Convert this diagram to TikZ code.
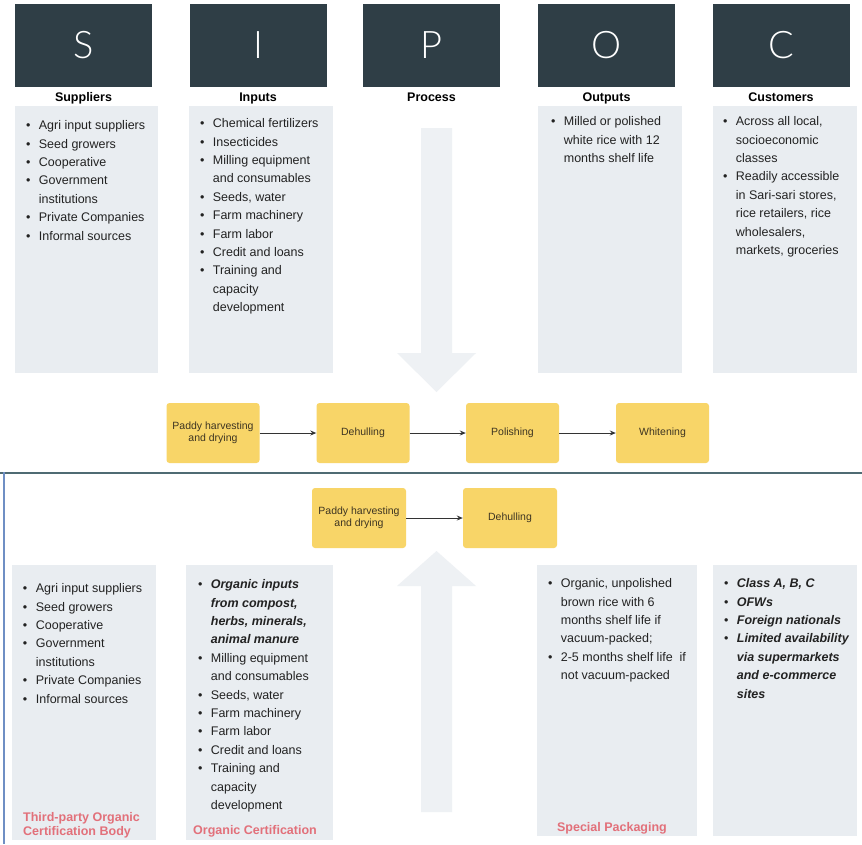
\documentclass[tikz,border=0pt]{standalone}
\usepackage{fontspec}
\setmainfont{Liberation Sans}
\IfFontExistsTF{Lato Light}{\newfontfamily\letterfont{Lato Light}}{\newfontfamily\letterfont{Liberation Sans}}
\usetikzlibrary{arrows.meta}

\definecolor{darkhead}{HTML}{2F3E46}
\definecolor{panelgray}{HTML}{E9EDF1}
\definecolor{arrowgray}{HTML}{EEF1F4}
\definecolor{stepyellow}{HTML}{F8D568}
\definecolor{steptext}{HTML}{3E3522}
\definecolor{certred}{HTML}{E2707A}
\definecolor{rulegreen}{HTML}{4F6B73}
\definecolor{ruleblue}{HTML}{6F8FC4}
\definecolor{bodytext}{HTML}{222222}

% bulleted list: one row per printed line
\newcommand{\blist}[1]{\begin{tabular}{@{}l@{\hspace{8.5pt}}l@{}}#1\end{tabular}}
\newcommand{\bi}{\textbullet}

\tikzset{
  letterbox/.style={fill=darkhead, minimum width=137pt, minimum height=83pt,
    inner sep=0pt, text=white, font=\letterfont\fontsize{38}{38}\selectfont},
  heading/.style={anchor=base, font=\bfseries\fontsize{12.5}{15}\selectfont, inner sep=0pt, text=black},
  panel/.style={fill=panelgray},
  bigarrow/.style={fill=arrowgray},
  listtext/.style={anchor=north west, inner sep=0pt, text=bodytext,
    font=\fontsize{12.5}{18.4}\selectfont},
  stepbox/.style={fill=stepyellow, rounded corners=3pt, minimum width=93pt,
    minimum height=60pt, inner sep=0pt, text=steptext, align=center,
    font=\fontsize{10.5}{12.5}\selectfont},
  flow/.style={-{Stealth[length=6pt,width=5pt]}, draw=black!80, line width=1pt},
  certlabel/.style={font=\bfseries\fontsize{12.5}{14}\selectfont, text=certred, inner sep=0pt}
}

\begin{document}
\begin{tikzpicture}[x=1pt,y=-1pt]
\useasboundingbox (0,0) rectangle (862,844);
\fill[white] (0,0) rectangle (862,844);

% ---------- SIPOC letter headers ----------
\node[letterbox] (hS) at (83.5,45.5) {S};
\node[letterbox] (hI) at (258,45.5) {I};
\node[letterbox] (hP) at (431.5,45.5) {P};
\node[letterbox] (hO) at (606.5,45.5) {O};
\node[letterbox] (hC) at (781,45.5) {C};

\node[heading] (tS) at (83.5,101.5) {Suppliers};
\node[heading] (tI) at (258,101.5) {Inputs};
\node[heading] (tP) at (431.5,101.5) {Process};
\node[heading] (tO) at (606.5,101.5) {Outputs};
\node[heading] (tC) at (781,101.5) {Customers};

% ---------- conventional rice: panels ----------
\fill[panel] (15,106) rectangle (158,373);
\fill[panel] (189,106) rectangle (333,373);
\fill[panel] (538,106) rectangle (682,373);
\fill[panel] (713,106) rectangle (857,373);

% process arrow pointing down to the milling steps
\fill[bigarrow] (421,128) -- (452,128) -- (452,353) -- (476,353)
  -- (436.5,392) -- (397,353) -- (421,353) -- cycle;

\node[listtext] (lsU) at (25.8,116.6) {\blist{
  \bi & Agri input suppliers\\
  \bi & Seed growers\\
  \bi & Cooperative\\
  \bi & Government\\
      & institutions\\
  \bi & Private Companies\\
  \bi & Informal sources}};

\node[listtext] (liU) at (199.8,114.6) {\blist{
  \bi & Chemical fertilizers\\
  \bi & Insecticides\\
  \bi & Milling equipment\\
      & and consumables\\
  \bi & Seeds, water\\
  \bi & Farm machinery\\
  \bi & Farm labor\\
  \bi & Credit and loans\\
  \bi & Training and\\
      & capacity\\
      & development}};

\node[listtext] (loU) at (550.8,112.6) {\blist{
  \bi & Milled or polished\\
      & white rice with 12\\
      & months shelf life}};

\node[listtext] (lcU) at (722.8,112.6) {\blist{
  \bi & Across all local,\\
      & socioeconomic\\
      & classes\\
  \bi & Readily accessible\\
      & in Sari-sari stores,\\
      & rice retailers, rice\\
      & wholesalers,\\
      & markets, groceries}};

% ---------- conventional milling steps ----------
\node[stepbox] (pA) at (213,433) {Paddy harvesting\\and drying};
\node[stepbox] (pB) at (363,433) {Dehulling};
\node[stepbox] (pC) at (512.5,433) {Polishing};
\node[stepbox] (pD) at (662.5,433) {Whitening};
\draw[flow] (pA) -- (pB);
\draw[flow] (pB) -- (pC);
\draw[flow] (pC) -- (pD);

% ---------- organic rice frame ----------
\draw[rulegreen, line width=2pt] (0,473) -- (862,473);
\draw[ruleblue, line width=2pt] (4,472) -- (4,844);

\node[stepbox, minimum width=94pt] (qA) at (359,518) {Paddy harvesting\\and drying};
\node[stepbox, minimum width=94pt] (qB) at (510,518) {Dehulling};
\draw[flow] (qA) -- (qB);

% ---------- organic rice: panels ----------
\fill[panel] (12,565) rectangle (156,840);
\fill[panel] (186,565) rectangle (333,840);
\fill[panel] (537,565) rectangle (697,836);
\fill[panel] (713,565) rectangle (857,836);

% process arrow pointing up to the organic steps
\fill[bigarrow] (436.5,551) -- (476,586) -- (452,586) -- (452,812)
  -- (421,812) -- (421,586) -- (397,586) -- cycle;

\node[listtext] (lsL) at (22.8,579.6) {\blist{
  \bi & Agri input suppliers\\
  \bi & Seed growers\\
  \bi & Cooperative\\
  \bi & Government\\
      & institutions\\
  \bi & Private Companies\\
  \bi & Informal sources}};

\node[listtext] (liL) at (197.8,575.6) {\blist{
  \bi & \textbf{\textit{Organic inputs}}\\
      & \textbf{\textit{from compost,}}\\
      & \textbf{\textit{herbs, minerals,}}\\
      & \textbf{\textit{animal manure}}\\
  \bi & Milling equipment\\
      & and consumables\\
  \bi & Seeds, water\\
  \bi & Farm machinery\\
  \bi & Farm labor\\
  \bi & Credit and loans\\
  \bi & Training and\\
      & capacity\\
      & development}};

\node[listtext] (loL) at (547.8,574.6) {\blist{
  \bi & Organic, unpolished\\
      & brown rice with 6\\
      & months shelf life if\\
      & vacuum-packed;\\
  \bi & 2-5 months shelf life\ \ if\\
      & not vacuum-packed}};

\node[listtext] (lcL) at (723.8,574.6) {\blist{
  \bi & \textbf{\textit{Class A, B, C}}\\
  \bi & \textbf{\textit{OFWs}}\\
  \bi & \textbf{\textit{Foreign nationals}}\\
  \bi & \textbf{\textit{Limited availability}}\\
      & \textbf{\textit{via supermarkets}}\\
      & \textbf{\textit{and e-commerce}}\\
      & \textbf{\textit{sites}}}};

% certification and packaging notes
\node[certlabel, anchor=north west] (cS) at (23,811.6)
  {\begin{tabular}{@{}l@{}}Third-party Organic\\Certification Body\end{tabular}};
\node[certlabel, anchor=base west] (cI) at (193,834.4) {Organic Certification};
\node[certlabel, anchor=base] (cO) at (612,831.4) {Special Packaging};
\end{tikzpicture}
\end{document}
